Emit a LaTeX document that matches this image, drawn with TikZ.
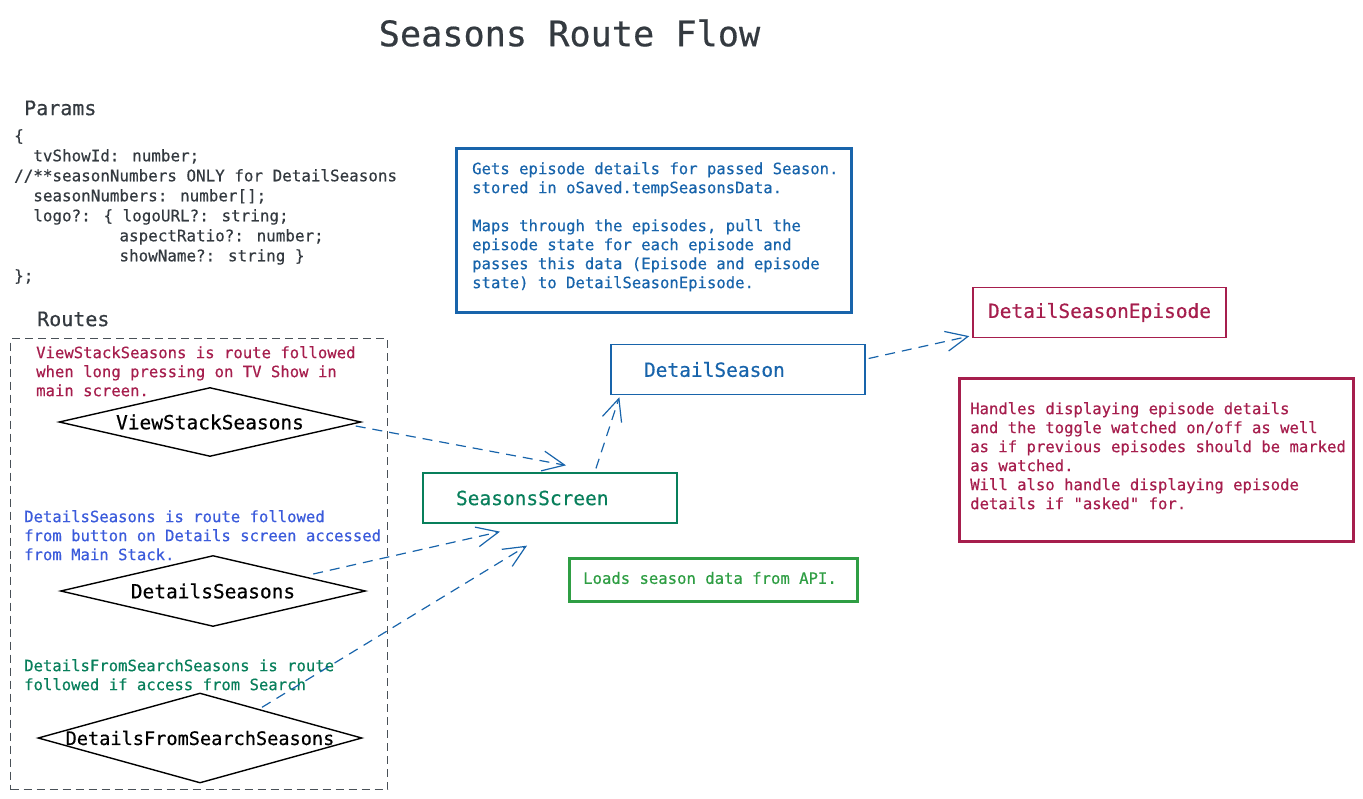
\documentclass[tikz,border=0pt]{standalone}
\usepackage{fontspec}
\newfontfamily\monof[FakeBold=0.5]{DejaVu Sans Mono}
\usetikzlibrary{shapes.geometric,arrows.meta,calc}
\definecolor{cred}{HTML}{A61E4D}
\definecolor{cblue}{HTML}{1864AB}
\definecolor{cindigo}{HTML}{3B5BDB}
\definecolor{cteal}{HTML}{087F5B}
\definecolor{cgreen}{HTML}{2F9E44}
\definecolor{cdark}{HTML}{343A40}
\definecolor{cgray}{HTML}{495057}
\begin{document}
\begin{tikzpicture}[x=1pt,y=-1pt,
  txt/.style={inner sep=0pt, align=left, font=\monof\fontsize{15.6}{19}\selectfont},
  codetxt/.style={inner sep=0pt, align=left, text=cdark, font=\monof\fontsize{15.9}{20}\selectfont},
  headtxt/.style={inner sep=0pt, text=cdark, font=\monof\fontsize{20}{24}\selectfont},
  routebox/.style={diamond, draw=black, line width=1.4pt, inner sep=0pt},
  dlabel/.style={inner sep=0pt, text=black, font=\monof\fontsize{19.5}{24}\selectfont},
  screenbox/.style={draw, line width=1.3pt, inner ysep=0pt, minimum height=50, align=left, font=\monof\fontsize{19.5}{24}\selectfont},
  notebox/.style={line width=3pt, inner sep=0pt, anchor=north west},
  conn/.style={draw=cblue, line width=1.2pt, dash pattern=on 10pt off 7pt,
    -{Straight Barb[length=22pt,width=20pt,line width=1.2pt]}}
]
\useasboundingbox (0,0) rectangle (1363,798);

% title
\node[inner sep=0pt, text=cdark, font=\monof\fontsize{35.2}{40}\selectfont] (title) at (569.5,33) {Seasons Route Flow};

% params
\node[headtxt, anchor=west] (paramsh) at (24,108) {Params};
\node[codetxt, anchor=north west] (params) at (14,129) {%
\{\\
\phantom{xx}tvShowId: number;\\
//**seasonNumbers ONLY for DetailSeasons\\
\phantom{xx}seasonNumbers: number[];\\
\phantom{xx}logo?: \{ logoURL?: string;\\
\phantom{xxxxxxxxxxx}aspectRatio?: number;\\
\phantom{xxxxxxxxxxx}showName?: string \}\\
\};};

% routes
\node[headtxt, anchor=west] (routesh) at (37,319) {Routes};
\node[draw=cgray, line width=1.4pt, dash pattern=on 8pt off 5pt, minimum width=377, minimum height=451, anchor=north west, inner sep=0pt] (routes) at (10,338) {};

\node[txt, text=cred, anchor=north west] (n1) at (36,346) {ViewStackSeasons is route followed\\when long pressing on TV Show in\\main screen.};
\node[routebox, minimum width=302, minimum height=69] (d1) at (210,422) {};
\node[dlabel] (d1t) at (d1) {ViewStackSeasons};

\node[txt, text=cindigo, anchor=north west] (n2) at (24,510) {DetailsSeasons is route followed\\from button on Details screen accessed\\from Main Stack.};
\node[routebox, minimum width=305, minimum height=71] (d2) at (213,591) {};
\node[dlabel] (d2t) at (d2) {DetailsSeasons};

\node[txt, text=cteal, anchor=north west] (n3) at (24,659) {DetailsFromSearchSeasons is route\\followed if access from Search};
\node[routebox, minimum width=324, minimum height=90] (d3) at (200,738) {};
\node[dlabel, font=\monof\fontsize{18.6}{22}\selectfont] (d3t) at (d3) {DetailsFromSearchSeasons};

% screens
\node[screenbox, draw=cteal, text=cteal, text width=188, inner xsep=33] (ss) at (550,498) {SeasonsScreen};
\node[screenbox, draw=cblue, text=cblue, text width=188, inner xsep=33] (ds) at (738,369.5) {DetailSeason};
\node[screenbox, draw=cred, text=cred, text width=223, inner xsep=15] (dse) at (1099.5,312.5) {DetailSeasonEpisode};

% notes
\node[notebox, draw=cblue, minimum width=395, minimum height=164] (bnote) at (454.5,146.5) {};
\node[txt, text=cblue, anchor=north west] (bnotet) at (472,162) {Gets episode details for passed Season.\\stored in oSaved.tempSeasonsData.\\[19pt]Maps through the episodes, pull the\\episode state for each episode and\\passes this data (Episode and episode\\state) to DetailSeasonEpisode.};

\node[notebox, draw=cred, minimum width=394, minimum height=163] (rnote) at (957.5,376.5) {};
\node[txt, text=cred, anchor=north west] (rnotet) at (970,402) {Handles displaying episode details\\and the toggle watched on/off as well\\as if previous episodes should be marked\\as watched.\\Will also handle displaying episode\\details if "asked" for.};

\node[notebox, draw=cgreen, minimum width=288, minimum height=43] (gnote) at (567.5,556.5) {};
\node[txt, text=cgreen, anchor=west] (gnotet) at (583,578) {Loads season data from API.};

% connectors
\draw[conn] ($(d1.east)+(-6,4)$) -- ($(ss.north)+(16,-7)$);
\draw[conn] ($(d2.east)+(-53,-17)$) -- ($(ss.south)+(-50,8)$);
\draw[conn] ($(d3.north)+(62,15)$) -- ($(ss.south)+(-23,22)$);
\draw[conn] ($(ss.north)+(46,-4)$) -- ($(ds.south west)+(9,2)$);
\draw[conn] ($(ds.east)+(3,-11)$) -- ($(dse.south west)+(-3,-2)$);
\end{tikzpicture}
\end{document}
